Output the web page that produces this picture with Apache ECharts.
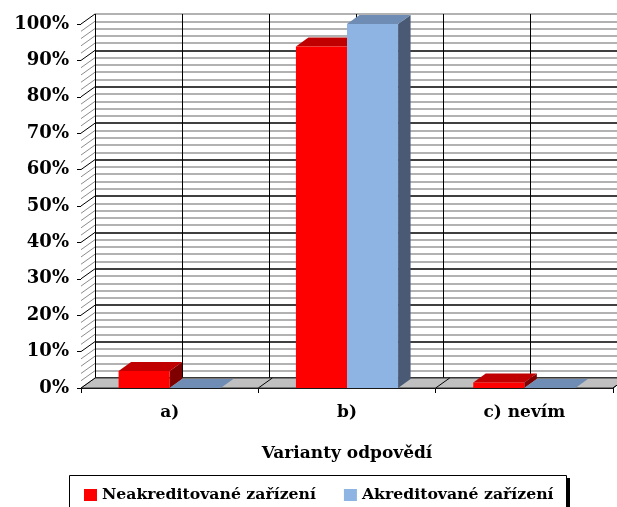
<!DOCTYPE html>
<html>
<head>
<meta charset="utf-8">
<script src="https://cdn.jsdelivr.net/npm/echarts@6/dist/echarts.min.js"></script>
<style>
  html, body { margin: 0; padding: 0; background: #fff; }
  #chart { width: 617px; height: 507px; }
</style>
</head>
<body>
<div id="chart"></div>
<script>
// Answer variants and shares (in %) for the two groups of facilities
const categories = ['a)', 'b)', 'c) nevím'];
const neakreditovane = [4.7, 93.8, 1.5];
const akreditovane = [0, 100, 0];
const seriesNames = ['Neakreditované zařízení', 'Akreditované zařízení'];
const axisTitle = 'Varianty odpovědí';

// Pseudo-3D geometry: wall depth and column depth, in pixels
const WALL_DEPTH = [14, -10];
const BAR_DEPTH = [12.5, -9];
const FONT = 'DejaVu Serif';

const faces = [
  { front: '#FF0000', top: '#C00000', side: '#7F0000' },
  { front: '#8EB4E3', top: '#6E8CB4', side: '#4A5A74' }
];

// Column drawn as front face + top face + right side face
function columnRenderer(slot) {
  const f = faces[slot];
  return function (params, api) {
    const cat = api.value(0);
    const val = api.value(1);
    const base = api.coord([cat, 0]);
    const top = api.coord([cat, val]);
    const band = api.size([1, 0])[0];
    const w = band * 0.288;
    const x0 = slot === 0 ? base[0] - w : base[0];
    const x1 = x0 + w;
    const yb = base[1], yt = top[1];
    const dx = BAR_DEPTH[0], dy = BAR_DEPTH[1];
    return {
      type: 'group',
      children: [
        { type: 'polygon', shape: { points: [[x1, yb], [x1 + dx, yb + dy], [x1 + dx, yt + dy], [x1, yt]] }, style: { fill: f.side } },
        { type: 'polygon', shape: { points: [[x0, yt], [x1, yt], [x1 + dx, yt + dy], [x0 + dx, yt + dy]] }, style: { fill: f.top } },
        { type: 'rect', shape: { x: x0, y: yt, width: w, height: yb - yt }, style: { fill: f.front } }
      ]
    };
  };
}

// Floor and left side wall of the 3D frame
function frameRenderer(params, api) {
  const cs = params.coordSys;
  const cx = cs.x, cy = cs.y, cw = cs.width, ch = cs.height;
  const dx = WALL_DEPTH[0], dy = WALL_DEPTH[1];
  const band = api.size([1, 0])[0];
  const yb = cy + ch;
  const children = [];
  children.push({
    type: 'polygon',
    shape: { points: [[cx, yb], [cx + cw, yb], [cx + cw + dx, yb + dy], [cx + dx, yb + dy]] },
    style: { fill: '#C0C0C0', stroke: '#303030', lineWidth: 1 }
  });
  for (let i = 1; i <= categories.length; i++) {
    const x = cx + i * band;
    children.push({ type: 'line', shape: { x1: x, y1: yb, x2: x + dx, y2: yb + dy }, style: { stroke: '#000', lineWidth: 1 } });
  }
  children.push({
    type: 'polygon',
    shape: { points: [[cx, yb], [cx, cy], [cx + dx, cy + dy], [cx + dx, yb + dy]] },
    style: { fill: '#fff' }
  });
  for (let v = 0; v <= 100; v += 2) {
    const y = api.coord([0, v])[1];
    const major = v % 10 === 0;
    children.push({
      type: 'line',
      shape: { x1: cx, y1: y, x2: cx + dx, y2: y + dy },
      style: { stroke: major ? '#000' : '#8c8c8c', lineWidth: 1 }
    });
  }
  return { type: 'group', children: children };
}

const chart = echarts.init(document.getElementById('chart'), null, { renderer: 'canvas' });

const backColors = [];
for (let i = 0; i < 10; i++) backColors.push('#000');
backColors.push('#999');

chart.setOption({
  animation: false,
  backgroundColor: '#fff',
  textStyle: { fontFamily: FONT },
  grid: [
    { left: 81, top: 24, width: 532, height: 364 },
    { left: 95, top: 14, width: 532, height: 364 }
  ],
  // Legend frame with its hard drop shadow
  graphic: [
    { type: 'rect', left: 73, top: 478, z: 90, shape: { width: 497, height: 50 }, style: { fill: '#000' } },
    { type: 'rect', left: 69, top: 475, z: 91, shape: { width: 497, height: 50 }, style: { fill: '#fff', stroke: '#000', lineWidth: 1 } }
  ],
  legend: {
    data: seriesNames,
    left: 69,
    top: 475,
    z: 95,
    padding: [12, 11, 12, 15],
    itemGap: 28,
    itemWidth: 13,
    itemHeight: 12,
    icon: 'rect',
    textStyle: { fontFamily: FONT, fontWeight: 'bold', fontSize: 15.7, color: '#000' }
  },
  xAxis: [
    {
      type: 'category',
      gridIndex: 0,
      data: categories,
      axisLine: { lineStyle: { color: '#000', width: 1 } },
      axisTick: { show: true, length: 5, lineStyle: { color: '#000' } },
      axisLabel: { margin: 16, fontFamily: FONT, fontWeight: 'bold', fontSize: 17, color: '#000' },
      splitLine: { show: false },
      name: axisTitle,
      nameLocation: 'middle',
      nameGap: 57,
      nameTextStyle: { fontFamily: FONT, fontWeight: 'bold', fontSize: 17, color: '#000' }
    },
    {
      type: 'value',
      gridIndex: 1,
      min: 0, max: 6, interval: 1,
      axisLine: { show: false },
      axisTick: { show: false },
      axisLabel: { show: false },
      splitLine: { show: true, lineStyle: { color: '#000', width: 1 } }
    }
  ],
  yAxis: [
    {
      type: 'value',
      gridIndex: 0,
      min: 0, max: 100, interval: 10,
      axisLine: { show: true, lineStyle: { color: '#000', width: 1 } },
      axisTick: { show: true, length: 4, lineStyle: { color: '#000' } },
      axisLabel: { margin: 12, formatter: '{value}%', fontFamily: FONT, fontWeight: 'bold', fontSize: 18, color: '#000' },
      splitLine: { show: false }
    },
    {
      type: 'value',
      gridIndex: 1,
      min: 0, max: 100, interval: 10,
      axisLine: { show: false },
      axisTick: { show: false },
      axisLabel: { show: false },
      minorTick: { show: false, splitNumber: 5 },
      splitLine: { show: true, lineStyle: { color: backColors, width: 1.5 } },
      minorSplitLine: { show: true, lineStyle: { color: '#999', width: 1.5 } }
    }
  ],
  series: [
    {
      type: 'custom',
      name: 'frame',
      xAxisIndex: 0, yAxisIndex: 0,
      z: 1,
      silent: true,
      data: [[0, 0]],
      renderItem: frameRenderer
    },
    {
      type: 'custom',
      name: seriesNames[0],
      xAxisIndex: 0, yAxisIndex: 0,
      z: 3,
      itemStyle: { color: faces[0].front },
      data: neakreditovane.map((v, i) => [i, v]),
      renderItem: columnRenderer(0)
    },
    {
      type: 'custom',
      name: seriesNames[1],
      xAxisIndex: 0, yAxisIndex: 0,
      z: 4,
      itemStyle: { color: faces[1].front },
      data: akreditovane.map((v, i) => [i, v]),
      renderItem: columnRenderer(1)
    }
  ]
});
</script>
</body>
</html>
